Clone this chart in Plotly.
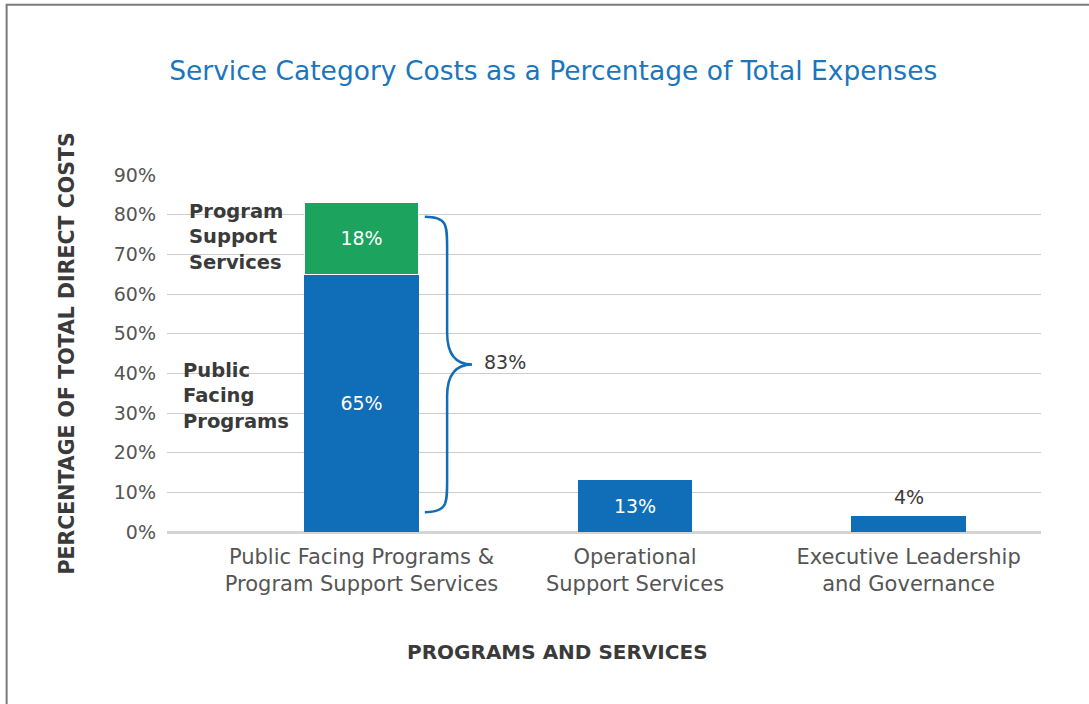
import plotly.graph_objects as go

# Data
categories = [
    "Public Facing Programs &<br>Program Support Services",
    "Operational<br>Support Services",
    "Executive Leadership<br>and Governance",
]
direct_share = [65, 13, 4]          # blue segments
support_share = [18]                # green segment on the first category
segment_names = ["Public<br>Facing<br>Programs", "Program<br>Support<br>Services"]
tick_vals = [0, 10, 20, 30, 40, 50, 60, 70, 80, 90]
tick_text = [f"{v}%" for v in tick_vals]

BLUE = "#106db7"
GREEN = "#1ca35e"
TITLE_BLUE = "#1a76bd"
DARK = "#3a3a3a"
GREY = "#555555"
FONT = "DejaVu Sans"

fig = go.Figure()

fig.add_trace(go.Bar(
    x=categories,
    y=direct_share,
    marker=dict(color=BLUE, line=dict(width=0)),
    width=0.42,
    text=[f"{v}%" for v in direct_share],
    textposition=["inside", "inside", "none"],
    insidetextanchor="middle",
    textangle=0,
    constraintext="none",
    insidetextfont=dict(family=FONT, size=19, color="white"),
    cliponaxis=False,
    hoverinfo="skip",
))

fig.add_trace(go.Bar(
    x=categories[:1],
    y=support_share,
    marker=dict(color=GREEN, line=dict(width=1, color="white")),
    width=0.42,
    text=[f"{v}%" for v in support_share],
    textposition="inside",
    insidetextanchor="middle",
    textangle=0,
    constraintext="none",
    insidetextfont=dict(family=FONT, size=19, color="white"),
    hoverinfo="skip",
))

# Value label above the short third bar
fig.add_annotation(x=categories[2], xref="x", y=direct_share[2], yref="y",
                   yanchor="bottom", yshift=6, text=f"{direct_share[2]}%",
                   showarrow=False, font=dict(family=FONT, size=19, color=DARK))

# Segment labels to the left of the stacked bar
seg_mid = [direct_share[0] / 2, direct_share[0] + support_share[0] / 2]
label_font = dict(family=FONT, size=19.5, color=DARK, weight=700)
fig.add_annotation(x=0.016, xref="paper", y=seg_mid[0], yref="y", yshift=7,
                   text=segment_names[0], showarrow=False, xanchor="left",
                   align="left", font=label_font)
fig.add_annotation(x=0.023, xref="paper", y=seg_mid[1], yref="y", yshift=1,
                   text=segment_names[1], showarrow=False, xanchor="left",
                   align="left", font=label_font)

# Curly brace spanning the stacked total
total = direct_share[0] + support_share[0]
top, bottom = total - 3.5, 5
mid = (top + bottom) / 2
x0, x1, x2 = 0.295, 0.3205, 0.349
r = 8
brace = (
    f"M {x0},{top} "
    f"C {x1},{top} {x1},{top - 2} {x1},{top - r} "
    f"L {x1},{mid + r} "
    f"C {x1},{mid + 2} {x1 + 0.012},{mid} {x2},{mid} "
    f"C {x1 + 0.012},{mid} {x1},{mid - 2} {x1},{mid - r} "
    f"L {x1},{bottom + r} "
    f"C {x1},{bottom + 2} {x1},{bottom} {x0},{bottom}"
)
fig.add_shape(type="path", path=brace, xref="paper", yref="y",
              line=dict(color=BLUE, width=2.5))
fig.add_annotation(x=x2 + 0.011, xref="paper", y=mid, yref="y", yshift=2,
                   text=f"{total}%", showarrow=False, xanchor="left",
                   font=dict(family=FONT, size=19, color=DARK))

# Horizontal axis title
fig.add_annotation(x=0.447, xref="paper", y=652, yref="paper", yanchor="middle",
                   text="PROGRAMS AND SERVICES", showarrow=False,
                   font=dict(family=FONT, size=20, color=DARK, weight=700))

# Outer frame (top and left edges visible)
fig.add_shape(type="rect", xref="paper", yref="paper",
              x0=-0.1835, x1=1.2, y0=-0.6, y1=1.4772,
              line=dict(color="#7a7a7a", width=2), fillcolor="rgba(0,0,0,0)")

fig.update_layout(
    width=1089,
    height=704,
    margin=dict(l=167, r=48, t=175, b=172),
    paper_bgcolor="white",
    plot_bgcolor="white",
    barmode="stack",
    showlegend=False,
    font=dict(family=FONT, color=GREY),
    title=dict(
        text="Service Category Costs as a Percentage of Total Expenses",
        x=0.508, xanchor="center", y=0.899, yanchor="middle",
        font=dict(family=FONT, size=26.5, color=TITLE_BLUE, weight=400),
    ),
    xaxis=dict(
        type="category",
        range=[-0.711, 2.484],
        showgrid=False,
        showline=False,
        ticks="",
        ticklabelstandoff=10,
        tickfont=dict(family=FONT, size=21, color=GREY),
    ),
    yaxis=dict(
        range=[0, 90],
        tickvals=tick_vals,
        ticktext=tick_text,
        showgrid=True,
        gridcolor="#cccccc",
        gridwidth=1.2,
        zeroline=True,
        zerolinecolor="#d4d4d4",
        zerolinewidth=2.5,
        showline=False,
        ticks="",
        ticklabelstandoff=10,
        tickfont=dict(family=FONT, size=19, color=GREY),
        title=dict(text="PERCENTAGE OF TOTAL DIRECT COSTS", standoff=33,
                   font=dict(family=FONT, size=20.5, color=DARK, weight=700)),
    ),
)

# Place the horizontal axis title annotation in pixel terms of the plot area
plot_h = 704 - 175 - 172
fig.layout.annotations[-1].y = -(652 - (175 + plot_h)) / plot_h

fig.write_html("out.html")
